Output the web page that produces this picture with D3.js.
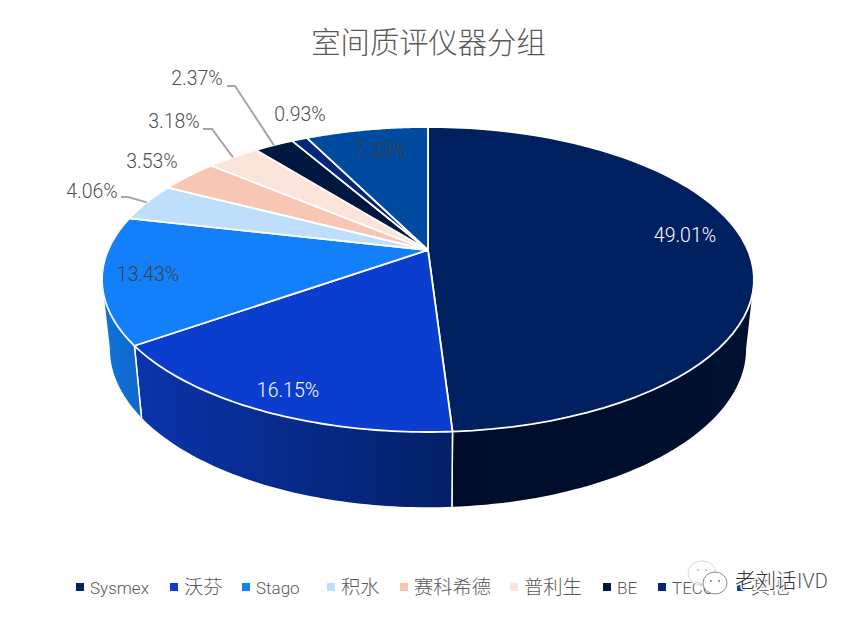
<!DOCTYPE html>
<html><head><meta charset="utf-8">
<script src="https://cdn.jsdelivr.net/npm/d3@7"></script>
<style>
html,body{margin:0;padding:0;background:#fff}
svg{display:block}
text{font-family:Roboto,"Noto Sans CJK SC",sans-serif;font-weight:300}
.cjk{font-family:"Noto Sans CJK SC",sans-serif;font-weight:300}
</style></head><body>
<svg id="c" width="856" height="619"></svg>
<script>
const categories = ["Sysmex","沃芬","Stago","积水","赛科希德","普利生","BE","TECO","其他"];
const shares = [49.01,16.15,13.43,4.06,3.53,3.18,2.37,0.93,7.33];
const title = "室间质评仪器分组";
const colors = ["#002060","#0b3dce","#1380fa","#bddffb","#f7c7b4","#fbe4da","#00173f","#04267c","#004aa0"];
const wallLeft = ["#000d2a","#0a34aa","#1272dd","#bddffb","#f7c7b4","#fbe4da","#00173f","#04267c","#004aa0"];
const wallRight = ["#001030","#042068","#0f68c8","#bddffb","#f7c7b4","#fbe4da","#00173f","#04267c","#004aa0"];

// layout (not data)
const hub = {x:428,y:250}, persp = -0.1934, bx = 319.8, by = 146.8;
const depth = {sx:0.976, sy:1.04, dy:58};
const labelLayout = [
 {x:685,y:242,fill:"#fff"},{x:288,y:397,fill:"#fff"},{x:148,y:281,fill:"#404040"},
 {x:92,y:198,fill:"#505050",elbow:[121,128,197]},{x:152,y:168,fill:"#505050"},
 {x:174,y:128,fill:"#505050",elbow:[203,212,129]},{x:197,y:85,fill:"#505050",elbow:[227,235,86]},
 {x:300,y:121,fill:"#505050"},{x:380,y:157,fill:"#404040"}];
const legendLayout = [76,170,242,327,400,510,603,658,737];

const svg = d3.select("#c");
const defs = svg.append("defs");
const top3d = t=>{const X=Math.sin(t),Y=-Math.cos(t),d=1+persp*Y;return [hub.x+bx*X/d,hub.y+by*Y/d];};
const low3d = t=>{const p=top3d(t);return [hub.x+depth.sx*(p[0]-hub.x),depth.sy*p[1]+depth.dy];};
const line = d3.line();
const arcs = d3.pie().sort(null).value(d=>d)(shares);
const samples = (a,b)=>d3.range(0,61).map(i=>a+(b-a)*i/60);

svg.append("text").attr("class","cjk").attr("x",428.5).attr("y",53).attr("text-anchor","middle")
  .attr("font-size",29.3).attr("fill","#595959").text(title);

// walls
const wMin = 101*Math.PI/180, wMax = 259*Math.PI/180;
arcs.forEach((a,i)=>{
  const s=Math.max(a.startAngle,wMin), e=Math.min(a.endAngle,wMax);
  if(e<=s) return;
  const ts=samples(s,e);
  const poly=[...ts.map(top3d),...ts.slice().reverse().map(low3d)];
  const xs=d3.extent(poly,p=>p[0]);
  const g=defs.append("linearGradient").attr("id","w"+i).attr("gradientUnits","userSpaceOnUse")
    .attr("x1",xs[0]).attr("x2",xs[1]).attr("y1",0).attr("y2",0);
  g.append("stop").attr("offset",0).attr("stop-color",wallLeft[i]);
  g.append("stop").attr("offset",1).attr("stop-color",wallRight[i]);
  svg.append("path").attr("d",line(poly)+"Z").attr("fill",`url(#w${i})`);
  [a.startAngle,a.endAngle].forEach(t=>{
    if(t>wMin&&t<wMax) svg.append("path").attr("d",line([top3d(t),low3d(t)]))
      .attr("stroke","#fff").attr("stroke-width",1.5).attr("fill","none");
  });
});

// top face
arcs.forEach((a,i)=>{
  const pts=[[hub.x,hub.y],...samples(a.startAngle,a.endAngle).map(top3d)];
  svg.append("path").attr("d",line(pts)+"Z").attr("fill",colors[i])
    .attr("stroke","#fff").attr("stroke-width",1.8).attr("stroke-linejoin","round");
});

// leaders and labels
arcs.forEach((a,i)=>{
  const L=labelLayout[i];
  if(L.elbow){
    const [x0,x1,y]=L.elbow;
    svg.append("path").attr("d",line([[x0,y],[x1,y],top3d((a.startAngle+a.endAngle)/2)]))
      .attr("fill","none").attr("stroke","#a6a6a6").attr("stroke-width",2);
  }
  svg.append("text").attr("x",L.x).attr("y",L.y).attr("text-anchor","middle")
    .attr("font-size",19.5).attr("fill",L.fill).text(shares[i].toFixed(2)+"%");
});

// legend
categories.forEach((c,i)=>{
  const x=legendLayout[i];
  const latin=/^[A-Za-z]+$/.test(c);
  svg.append("rect").attr("x",x).attr("y",583).attr("width",8).attr("height",8).attr("fill",colors[i]);
  svg.append("text").attr("x",x+14).attr("y",594).attr("font-size",latin?17:19.3)
    .attr("fill","#595959").text(c);
});

// watermark
const wm=svg.append("g");
wm.append("ellipse").attr("cx",702).attr("cy",573).attr("rx",14).attr("ry",12)
  .attr("fill","#fff").attr("fill-opacity",.7).attr("stroke","#d9d9d9");
wm.append("ellipse").attr("cx",715).attr("cy",583).attr("rx",12).attr("ry",11)
  .attr("fill","#fff").attr("stroke","#8c8c8c");
[[698,570,"#bbb"],[706,570,"#bbb"],[711,581,"#777"],[719,581,"#777"]].forEach(([x,y,f])=>
  wm.append("circle").attr("cx",x).attr("cy",y).attr("r",1).attr("fill",f));
wm.append("text").attr("class","cjk").attr("x",735).attr("y",588).attr("font-size",20.5)
  .attr("fill","#333").attr("stroke","#fff").attr("stroke-width",3).attr("paint-order","stroke").text("老刘话");
wm.append("text").attr("x",797).attr("y",588).attr("font-size",20).attr("fill","#555")
  .attr("stroke","#fff").attr("stroke-width",2).attr("paint-order","stroke").text("IVD");
</script></body></html>
